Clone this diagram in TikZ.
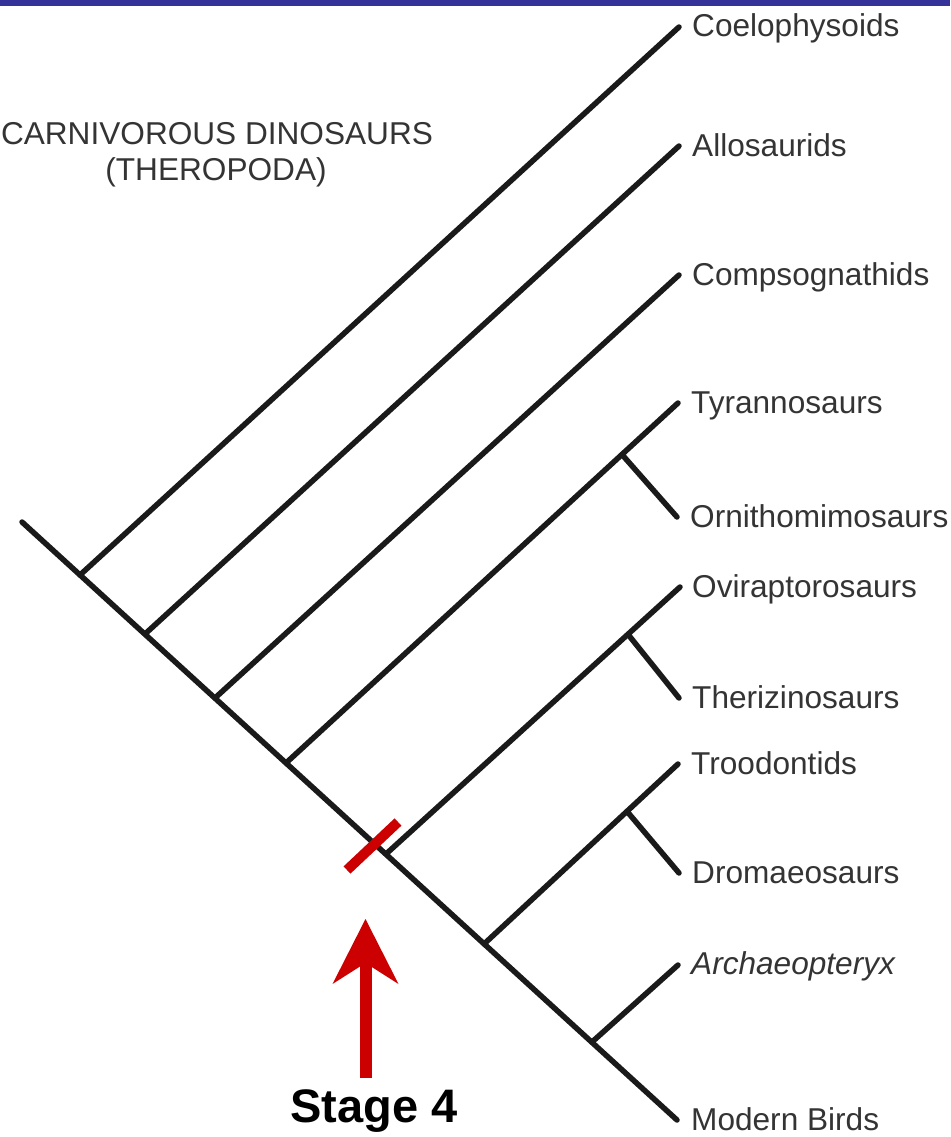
\documentclass[tikz,border=0pt]{standalone}
\usepackage{fontspec}
\setmainfont{Liberation Sans}
\usetikzlibrary{arrows.meta,calc}
\definecolor{barblue}{RGB}{51,51,153}
\definecolor{stagered}{RGB}{204,0,0}
\definecolor{inkgray}{RGB}{52,52,52}
\definecolor{branchblack}{RGB}{26,26,26}
\begin{document}
\begin{tikzpicture}[x=1pt,y=-1pt,
  branch/.style={draw=branchblack,line width=5.5pt,line cap=round},
  taxon/.style={anchor=base west,inner sep=0pt,text=inkgray,font=\fontsize{31.6}{35}\selectfont},
  title/.style={anchor=base,inner sep=0pt,text=inkgray,font=\fontsize{31.6}{35}\selectfont},
  marker/.style={draw=stagered,line width=10pt},
  stagearrow/.style={draw=stagered,line width=12pt,-{Stealth[length=65pt,width=66pt,inset=21pt,line width=0pt]}},
  stagelabel/.style={anchor=base,inner sep=0pt,font=\fontsize{47}{50}\selectfont\bfseries}]
\useasboundingbox (0,0) rectangle (950,1137);
\fill[white] (0,0) rectangle (950,1137);
\fill[barblue] (0,0) rectangle (950,6);

% trunk and joints
\coordinate (S) at (22,522);
\coordinate (E) at (677,1120);
\coordinate (j1) at (80,575);
\coordinate (j2) at (145,634);
\coordinate (j3) at (215,698);
\coordinate (j4) at (286,763);
\coordinate (j5) at (386,854);
\coordinate (j6) at (484,944);
\coordinate (j7) at (592,1042);
% tips
\coordinate (t1) at (679,27);
\coordinate (t2) at (679,146);
\coordinate (t3) at (679,275);
\coordinate (t4) at (678,403);
\coordinate (t5) at (677,517);
\coordinate (t6) at (680,587);
\coordinate (t7) at (679,698);
\coordinate (t8) at (678,764);
\coordinate (t9) at (679,873);
\coordinate (t10) at (678,965);
% side joints
\coordinate (s4) at ($(j4)!0.857!(t4)$);
\coordinate (s6) at ($(j5)!0.823!(t6)$);
\coordinate (s8) at ($(j6)!0.737!(t8)$);

\draw[branch] (S) -- (E);
\draw[branch] (j1) -- (t1);
\draw[branch] (j2) -- (t2);
\draw[branch] (j3) -- (t3);
\draw[branch] (j4) -- (t4);
\draw[branch] (s4) -- (t5);
\draw[branch] (j5) -- (t6);
\draw[branch] (s6) -- (t7);
\draw[branch] (j6) -- (t8);
\draw[branch] (s8) -- (t9);
\draw[branch] (j7) -- (t10);

% labels
\node[taxon] (l1) at ($(t1)+(13,10)$) {Coelophysoids};
\node[taxon] (l2) at ($(t2)+(13,10)$) {Allosaurids};
\node[taxon] (l3) at ($(t3)+(13,10)$) {Compsognathids};
\node[taxon] (l4) at ($(t4)+(13,10)$) {Tyrannosaurs};
\node[taxon] (l5) at ($(t5)+(13,10)$) {Ornithomimosaurs};
\node[taxon] (l6) at ($(t6)+(12,10)$) {Oviraptorosaurs};
\node[taxon] (l7) at ($(t7)+(13,10)$) {Therizinosaurs};
\node[taxon] (l8) at ($(t8)+(13,10)$) {Troodontids};
\node[taxon] (l9) at ($(t9)+(13,10)$) {Dromaeosaurs};
\node[taxon] (l10) at ($(t10)+(13,9)$) {\itshape Archaeopteryx};
\node[taxon] (l11) at ($(E)+(14,10)$) {Modern Birds};

\node[title] (title1) at (217,145) {CARNIVOROUS DINOSAURS};
\node[title] (title2) at (216,180) {(THEROPODA)};

% stage 4 marker
\coordinate (m1) at (347,870);
\coordinate (m2) at (398,822);
\draw[marker] (m1) -- (m2);
\node[stagelabel] (stage) at (374,1122) {Stage 4};
\coordinate (atail) at (365.5,1078);
\coordinate (ahead) at (365.5,919);
\draw[stagearrow] (atail) -- (ahead);
\end{tikzpicture}
\end{document}
